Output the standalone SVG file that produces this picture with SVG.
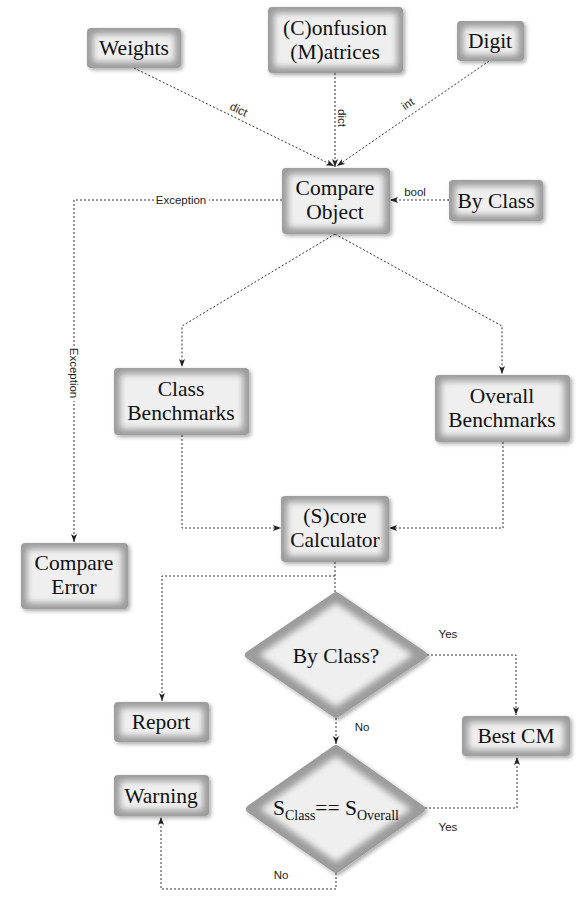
<svg xmlns="http://www.w3.org/2000/svg" width="576" height="924" viewBox="0 0 576 924">
  <style>
    .label { font-family: "Liberation Serif", "Times New Roman", serif; font-size: 21.5px; fill: #111; text-anchor: middle; }
    .edge { fill: none; stroke: #333; stroke-width: 1; stroke-dasharray: 2 2; }
    .elabel { font-family: "Liberation Sans", Arial, sans-serif; font-size: 11.5px; fill: #222; text-anchor: middle; }
    .outer { fill: #9c9c9c; }
    .inner { fill: #efefef; }
    .bg { fill: #ffffff; }
  </style>
  <defs>
    <filter id="shadow" x="-20%" y="-20%" width="140%" height="140%">
      <feGaussianBlur in="SourceAlpha" stdDeviation="2"/>
      <feOffset dx="2" dy="2" result="off"/>
      <feComponentTransfer><feFuncA type="linear" slope="0.35"/></feComponentTransfer>
      <feMerge><feMergeNode/><feMergeNode in="SourceGraphic"/></feMerge>
    </filter>
    <filter id="glow" x="-20%" y="-20%" width="140%" height="140%">
      <feGaussianBlur stdDeviation="3"/>
    </filter>
    <marker id="arrow" markerUnits="userSpaceOnUse" markerWidth="9" markerHeight="7" refX="8" refY="3" orient="auto">
      <path d="M0,0 L8,3 L0,6 L2,3 z" fill="#222"/>
    </marker>
  </defs>

  <rect width="576" height="924" fill="#ffffff"/>

  <!-- connectors -->
  <g id="connectors">
    <path class="edge" d="M134,68 L334,166" marker-end="url(#arrow)"/>
    <path class="edge" d="M335,73 L335,167" marker-end="url(#arrow)"/>
    <path class="edge" d="M489,61 L337,166" marker-end="url(#arrow)"/>
    <path class="edge" d="M449,200 L390,200" marker-end="url(#arrow)"/>
    <path class="edge" d="M282,200 L74,200 L74,542" marker-end="url(#arrow)"/>
    <path class="edge" d="M335,234 L182,326 L182,367" marker-end="url(#arrow)"/>
    <path class="edge" d="M335,234 L502,326 L502,374" marker-end="url(#arrow)"/>
    <path class="edge" d="M182,435 L182,528 L281,528" marker-end="url(#arrow)"/>
    <path class="edge" d="M503,442 L503,528 L389,528" marker-end="url(#arrow)"/>
    <path class="edge" d="M335,562 L335,592"/>
    <path class="edge" d="M335,576 L162,576 L162,701" marker-end="url(#arrow)"/>
    <path class="edge" d="M427,655 L516,655 L516,715" marker-end="url(#arrow)"/>
    <path class="edge" d="M336,718 L336,744" marker-end="url(#arrow)"/>
    <path class="edge" d="M425,808 L517,808 L517,757" marker-end="url(#arrow)"/>
    <path class="edge" d="M336,873 L336,889 L161,889 L161,817" marker-end="url(#arrow)"/>

    <!-- edge labels -->
    <text class="elabel" transform="translate(237,113) rotate(26)">dict</text>
    <text class="elabel" transform="translate(338,118) rotate(90)">dict</text>
    <text class="elabel" transform="translate(410,107) rotate(-34)">int</text>
    <text class="elabel" x="415" y="196">bool</text>
    <rect class="bg" x="154" y="194" width="55" height="12"/>
    <text class="elabel" x="181" y="204">Exception</text>
    <rect class="bg" x="68" y="346" width="12" height="55"/>
    <text class="elabel" transform="translate(70,373) rotate(90)">Exception</text>
    <text class="elabel" x="448" y="638">Yes</text>
    <text class="elabel" x="362" y="731">No</text>
    <text class="elabel" x="448" y="831">Yes</text>
    <text class="elabel" x="281" y="879">No</text>
  </g>

  <!-- nodes -->
  <g id="weights">
    <rect class="outer" x="87" y="28" width="94" height="40" rx="4" filter="url(#shadow)"/>
    <rect class="inner" x="93" y="34" width="82" height="28" rx="3" filter="url(#glow)"/>
    <text class="label" x="134" y="55">Weights</text>
  </g>
  <g id="confusion-matrices">
    <rect class="outer" x="268" y="7" width="135" height="66" rx="4" filter="url(#shadow)"/>
    <rect class="inner" x="274" y="13" width="123" height="54" rx="3" filter="url(#glow)"/>
    <text class="label" x="335" y="35">(C)onfusion</text>
    <text class="label" x="335" y="59">(M)atrices</text>
  </g>
  <g id="digit">
    <rect class="outer" x="457" y="21" width="67" height="40" rx="4" filter="url(#shadow)"/>
    <rect class="inner" x="463" y="27" width="55" height="28" rx="3" filter="url(#glow)"/>
    <text class="label" x="490" y="48">Digit</text>
  </g>
  <g id="compare-object">
    <rect class="outer" x="282" y="168" width="108" height="66" rx="4" filter="url(#shadow)"/>
    <rect class="inner" x="288" y="174" width="96" height="54" rx="3" filter="url(#glow)"/>
    <text class="label" x="335" y="195">Compare</text>
    <text class="label" x="335" y="219">Object</text>
  </g>
  <g id="by-class">
    <rect class="outer" x="449" y="180" width="94" height="41" rx="4" filter="url(#shadow)"/>
    <rect class="inner" x="455" y="186" width="82" height="29" rx="3" filter="url(#glow)"/>
    <text class="label" x="496" y="208">By Class</text>
  </g>
  <g id="class-benchmarks">
    <rect class="outer" x="114" y="368" width="135" height="67" rx="4" filter="url(#shadow)"/>
    <rect class="inner" x="120" y="374" width="123" height="55" rx="3" filter="url(#glow)"/>
    <text class="label" x="181" y="396">Class</text>
    <text class="label" x="181" y="420">Benchmarks</text>
  </g>
  <g id="overall-benchmarks">
    <rect class="outer" x="435" y="375" width="135" height="67" rx="4" filter="url(#shadow)"/>
    <rect class="inner" x="441" y="381" width="123" height="55" rx="3" filter="url(#glow)"/>
    <text class="label" x="502" y="403">Overall</text>
    <text class="label" x="502" y="427">Benchmarks</text>
  </g>
  <g id="score-calculator">
    <rect class="outer" x="281" y="496" width="108" height="66" rx="4" filter="url(#shadow)"/>
    <rect class="inner" x="287" y="502" width="96" height="54" rx="3" filter="url(#glow)"/>
    <text class="label" x="335" y="523">(S)core</text>
    <text class="label" x="335" y="547">Calculator</text>
  </g>
  <g id="compare-error">
    <rect class="outer" x="21" y="543" width="107" height="66" rx="4" filter="url(#shadow)"/>
    <rect class="inner" x="27" y="549" width="95" height="54" rx="3" filter="url(#glow)"/>
    <text class="label" x="74" y="570">Compare</text>
    <text class="label" x="74" y="594">Error</text>
  </g>
  <g id="by-class-decision">
    <polygon class="outer" points="336,596 423,655 336,714 249,655" stroke="#9c9c9c" stroke-width="8" stroke-linejoin="round" filter="url(#shadow)"/>
    <polygon class="inner" points="336,603 413,655 336,707 259,655" filter="url(#glow)"/>
    <text class="label" x="336" y="663">By Class?</text>
  </g>
  <g id="report">
    <rect class="outer" x="114" y="702" width="95" height="40" rx="4" filter="url(#shadow)"/>
    <rect class="inner" x="120" y="708" width="83" height="28" rx="3" filter="url(#glow)"/>
    <text class="label" x="161" y="729">Report</text>
  </g>
  <g id="best-cm">
    <rect class="outer" x="462" y="716" width="108" height="40" rx="4" filter="url(#shadow)"/>
    <rect class="inner" x="468" y="722" width="96" height="28" rx="3" filter="url(#glow)"/>
    <text class="label" x="516" y="743">Best CM</text>
  </g>
  <g id="warning">
    <rect class="outer" x="114" y="775" width="95" height="41" rx="4" filter="url(#shadow)"/>
    <rect class="inner" x="120" y="781" width="83" height="29" rx="3" filter="url(#glow)"/>
    <text class="label" x="161" y="803">Warning</text>
  </g>
  <g id="score-equality-decision">
    <polygon class="outer" points="336,749 421,809 336,869 250,809" stroke="#9c9c9c" stroke-width="8" stroke-linejoin="round" filter="url(#shadow)"/>
    <polygon class="inner" points="336,756 411,809 336,862 260,809" filter="url(#glow)"/>
    <text class="label" x="336" y="815">S<tspan font-size="14px" dy="5">Class</tspan><tspan dy="-5">== S</tspan><tspan font-size="14px" dy="5">Overall</tspan></text>
  </g>
</svg>
